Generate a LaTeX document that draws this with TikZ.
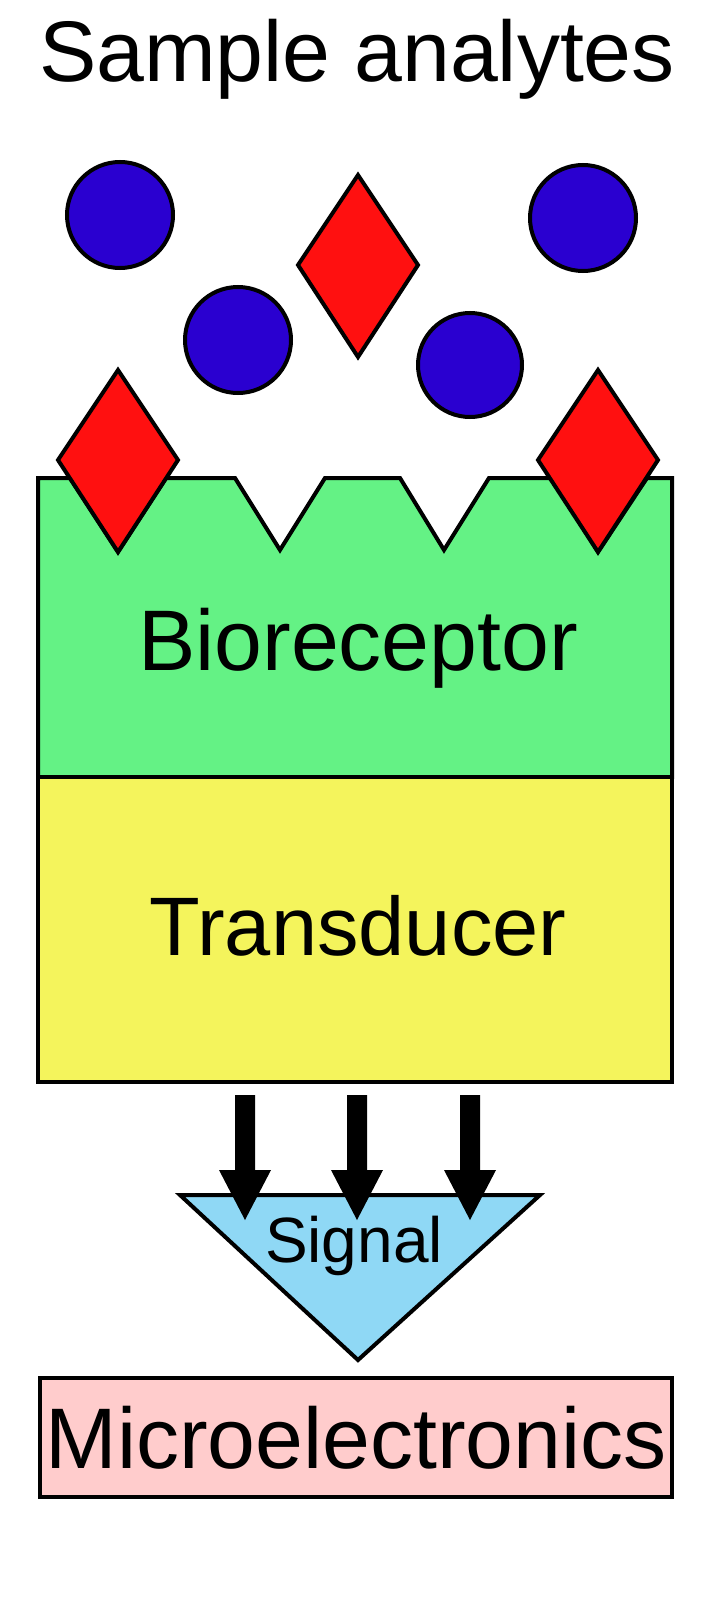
\documentclass[tikz,border=0pt]{standalone}
\usepackage{fontspec}
\setmainfont{Liberation Sans}
\definecolor{blu}{HTML}{2A00D0}
\definecolor{rd}{HTML}{FF1010}
\definecolor{grn}{HTML}{64F285}
\definecolor{yel}{HTML}{F4F45C}
\definecolor{sky}{HTML}{8FD8F5}
\definecolor{pnk}{HTML}{FFCCCC}
\begin{document}
\begin{tikzpicture}[x=1pt,y=-1pt,
  outl/.style={draw=black,line width=4pt,line join=miter},
  lbl/.style={inner sep=0pt,anchor=base}]
\useasboundingbox (0,0) rectangle (715,1621);
\node[lbl,font=\fontsize{86}{90}\selectfont] (title) at (357,82) {Sample analytes};
% green
\path[outl,fill=grn] (38,478) -- (70,478) -- (118,552) -- (166,478) -- (235,478) -- (280,550) -- (325,478)
  -- (400,478) -- (444,550) -- (489,478) -- (552,478) -- (598,552) -- (647,478) -- (672,478)
  -- (672,777) -- (38,777) -- cycle;
\node[lbl,font=\fontsize{86}{90}\selectfont] (bio) at (358,670) {Bioreceptor};
\path[outl,fill=yel] (38,777) rectangle (672,1082);
\node[lbl,font=\fontsize{83}{90}\selectfont] (tra) at (358,955) {Transducer};
% analytes
\foreach \x/\y/\r in {120/215/53,238/340/53,470/365/52,583/218/53}
  \path[outl,fill=blu] (\x,\y) circle (\r);
\foreach \x/\y in {358/265,118/460,598/460}
  \path[outl,fill=rd] (\x,\y-90) -- (\x+60,\y) -- (\x,\y+92) -- (\x-60,\y) -- cycle;
% signal
\path[outl,fill=sky] (180,1195) -- (540,1195) -- (358,1360) -- cycle;
\node[lbl,font=\fontsize{64}{70}\selectfont] (sig) at (354,1262) {Signal};
\foreach \x in {245,357,470}
  \fill (\x-10,1095) -- (\x+10,1095) -- (\x+10,1170) -- (\x+26,1170) -- (\x,1220) -- (\x-26,1170) -- (\x-10,1170) -- cycle;
\path[outl,fill=pnk] (40,1378) rectangle (672,1497);
\node[lbl,font=\fontsize{86}{90}\selectfont] (mic) at (356,1468) {Microelectronics};
\end{tikzpicture}
\end{document}
